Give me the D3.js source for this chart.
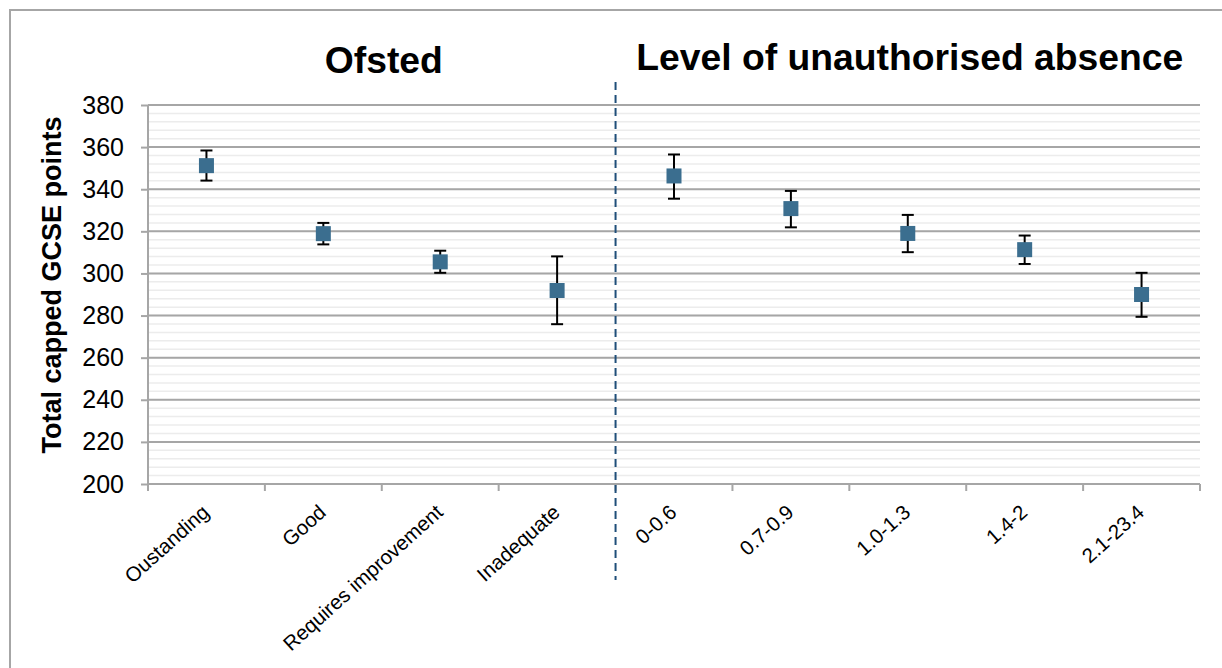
<!DOCTYPE html>
<html lang="en">
<head>
<meta charset="utf-8">
<title>GCSE points by Ofsted and absence</title>
<script src="https://d3js.org/d3.v7.min.js"></script>
<style>
	body { margin: 0; background: #fff; }
	text { font-family: "Liberation Sans", Arial, sans-serif; }
</style>
</head>
<body>
<div id="chart"></div>

<script type="text/javascript">
	// data
	var categories = ['Oustanding', 'Good', 'Requires improvement', 'Inadequate',
	                  '0-0.6', '0.7-0.9', '1.0-1.3', '1.4-2', '2.1-23.4'];
	var means = [351.2, 318.9, 305.5, 291.9, 346.3, 330.8, 319.0, 311.3, 290.0];
	var lower = [344.1, 313.8, 300.3, 275.9, 335.5, 321.9, 310.1, 304.5, 279.4];
	var upper = [358.4, 324.0, 310.8, 308.1, 356.5, 339.2, 327.8, 318.0, 300.3];
	var yTicks = [200, 220, 240, 260, 280, 300, 320, 340, 360, 380];
	var groupTitles = ['Ofsted', 'Level of unauthorised absence'];
	var groupSizes = [4, 5];

	var W = 1222, H = 668;
	var margin = {top: 105, right: 22, bottom: 184, left: 148},
		width = W - margin.left - margin.right,
		height = H - margin.top - margin.bottom;

	var svg = d3.select("#chart")
		.append("svg")
		.attr("width", W)
		.attr("height", H);

	// outer frame (cut off by the picture edge)
	svg.append("rect")
		.attr("x", 10).attr("y", 10)
		.attr("width", W + 50).attr("height", H + 50)
		.style("fill", "none")
		.style("stroke", "#a6a6a6")
		.style("stroke-width", 2);

	var g = svg.append("g")
		.attr("transform", "translate(" + margin.left + "," + margin.top + ")");

	var x = d3.scaleBand().domain(categories).range([0, width]).padding(0);
	var y = d3.scaleLinear().domain([200, 380]).range([height, 0]);

	// minor gridlines every 4
	g.append("g")
		.selectAll("line")
		.data(d3.range(200, 381, 4))
		.enter()
		.append("line")
		.attr("x1", 0).attr("x2", width)
		.attr("y1", function(d) { return y(d); })
		.attr("y2", function(d) { return y(d); })
		.style("stroke", "#ececec")
		.style("stroke-width", 1.5);

	// major gridlines + y axis
	var yAxis = g.append("g")
		.call(d3.axisLeft(y).tickValues(yTicks).tickSize(7).tickPadding(17).tickFormat(d3.format("d")));
	yAxis.select(".domain").remove();
	yAxis.selectAll("line").style("stroke", "#a6a6a6").style("stroke-width", 2);
	yAxis.selectAll("text")
		.style("font-size", "25px")
		.style("fill", "#000");

	g.append("g")
		.selectAll("line")
		.data(yTicks)
		.enter()
		.append("line")
		.attr("x1", 0).attr("x2", width)
		.attr("y1", function(d) { return y(d); })
		.attr("y2", function(d) { return y(d); })
		.style("stroke", "#a6a6a6")
		.style("stroke-width", 2);

	// left axis line
	g.append("line")
		.attr("x1", 0).attr("x2", 0)
		.attr("y1", 0).attr("y2", height)
		.style("stroke", "#a6a6a6")
		.style("stroke-width", 2);

	// x axis with ticks at band edges
	var edges = categories.map(function(c) { return x(c); }).concat([width]);
	g.append("g")
		.selectAll("line")
		.data(edges)
		.enter()
		.append("line")
		.attr("x1", function(d) { return d; })
		.attr("x2", function(d) { return d; })
		.attr("y1", height).attr("y2", height + 7)
		.style("stroke", "#a6a6a6")
		.style("stroke-width", 2);

	g.append("line")
		.attr("x1", 0).attr("x2", width)
		.attr("y1", height).attr("y2", height)
		.style("stroke", "#a6a6a6")
		.style("stroke-width", 2);

	// rotated category labels
	g.append("g")
		.selectAll("text")
		.data(categories)
		.enter()
		.append("text")
		.attr("transform", function(d) {
			return "translate(" + (x(d) + x.bandwidth() / 2 + 4) + "," + (height + 30) + ") rotate(-42)";
		})
		.attr("text-anchor", "end")
		.style("font-size", "20.5px")
		.style("fill", "#000")
		.text(function(d) { return d; });

	// y axis title
	svg.append("text")
		.attr("transform", "translate(61,285) rotate(-90)")
		.attr("text-anchor", "middle")
		.style("font-size", "27px")
		.style("font-weight", "bold")
		.style("fill", "#000")
		.text("Total capped GCSE points");

	// group divider
	var splitX = x(categories[groupSizes[0]]);
	g.append("line")
		.attr("x1", splitX).attr("x2", splitX)
		.attr("y1", -23).attr("y2", height + 96)
		.style("stroke", "#1f4e79")
		.style("stroke-width", 2)
		.style("stroke-dasharray", "8,5");

	// group titles
	var starts = [0, groupSizes[0]];
	var titleY = [-32, -35];
	for (var i = 0; i < groupTitles.length; i++) {
		var first = categories[starts[i]],
			last = categories[starts[i] + groupSizes[i] - 1];
		var cx = (x(first) + x(last) + x.bandwidth()) / 2;
		g.append("text")
			.attr("x", cx + 2)
			.attr("y", titleY[i])
			.attr("text-anchor", "middle")
			.style("font-size", "37.3px")
			.style("font-weight", "bold")
			.style("fill", "#000")
			.text(groupTitles[i]);
	}

	// error bars
	var idx = d3.range(categories.length);
	var cap = 6;
	var eb = g.append("g");
	eb.selectAll(".stem")
		.data(idx).enter().append("line")
		.attr("x1", function(i) { return x(categories[i]) + x.bandwidth() / 2; })
		.attr("x2", function(i) { return x(categories[i]) + x.bandwidth() / 2; })
		.attr("y1", function(i) { return y(lower[i]); })
		.attr("y2", function(i) { return y(upper[i]); })
		.style("stroke", "#000").style("stroke-width", 2);
	[lower, upper].forEach(function(arr) {
		eb.selectAll(null)
			.data(idx).enter().append("line")
			.attr("x1", function(i) { return x(categories[i]) + x.bandwidth() / 2 - cap; })
			.attr("x2", function(i) { return x(categories[i]) + x.bandwidth() / 2 + cap; })
			.attr("y1", function(i) { return y(arr[i]); })
			.attr("y2", function(i) { return y(arr[i]); })
			.style("stroke", "#000").style("stroke-width", 2);
	});

	// square markers
	var ms = 15;
	g.append("g")
		.selectAll("rect")
		.data(idx)
		.enter()
		.append("rect")
		.attr("x", function(i) { return x(categories[i]) + x.bandwidth() / 2 - ms / 2; })
		.attr("y", function(i) { return y(means[i]) - ms / 2; })
		.attr("width", ms)
		.attr("height", ms)
		.style("fill", "#3b6e8f");
</script>
</body>
</html>
